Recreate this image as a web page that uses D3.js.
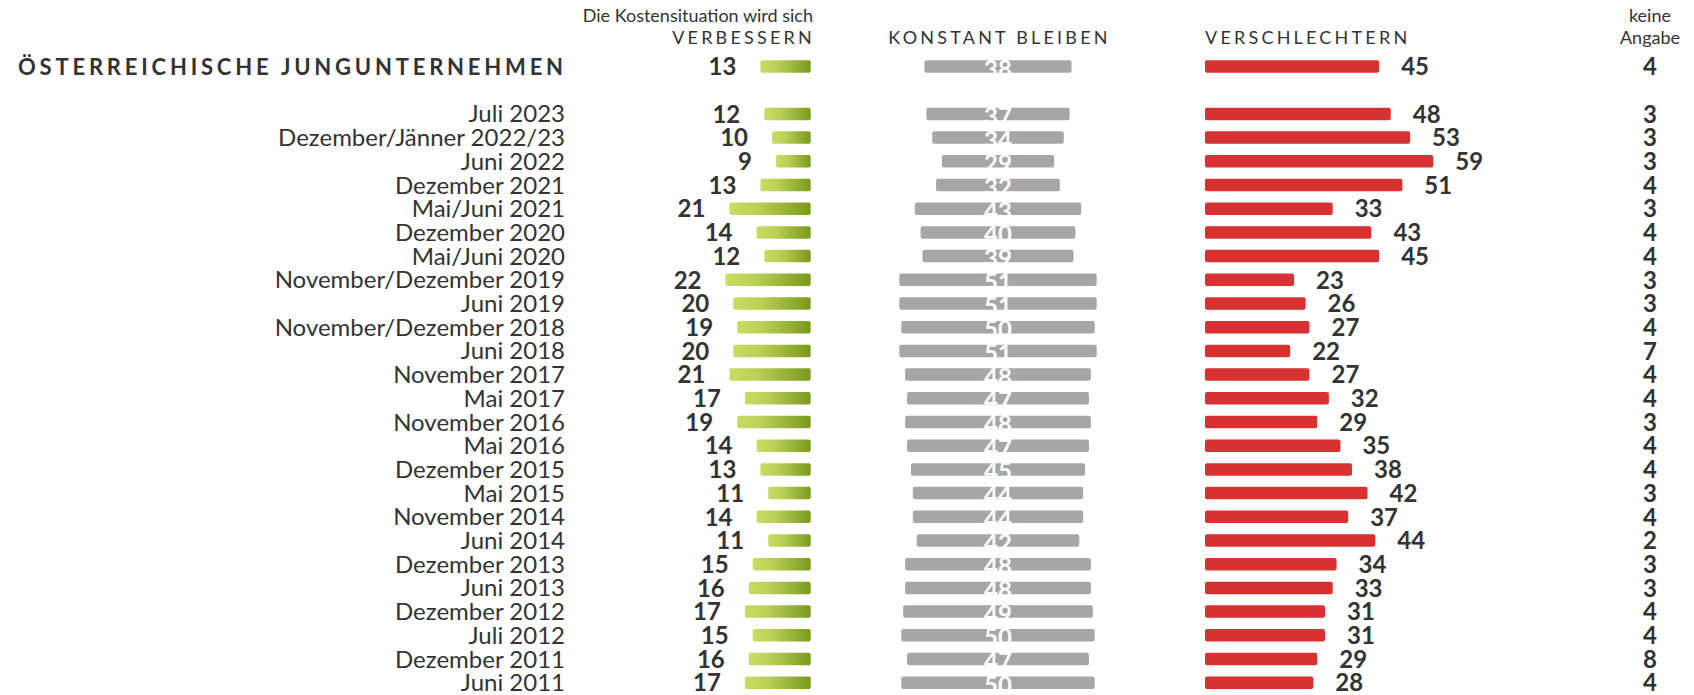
<!DOCTYPE html>
<html><head><meta charset="utf-8">
<script src="https://cdn.jsdelivr.net/npm/d3@7"></script>
<style>
html,body{margin:0;padding:0;background:#fff;}
svg{display:block;font-family:Lato,"Noto Sans",sans-serif;}
</style></head>
<body>
<svg id="chart" width="1694" height="695"></svg>
<script>
const summaryLabel = "ÖSTERREICHISCHE JUNGUNTERNEHMEN";
const summaryValues = [13, 38, 45, 4];
const categories = ["Juli 2023","Dezember/Jänner 2022/23","Juni 2022","Dezember 2021","Mai/Juni 2021","Dezember 2020","Mai/Juni 2020","November/Dezember 2019","Juni 2019","November/Dezember 2018","Juni 2018","November 2017","Mai 2017","November 2016","Mai 2016","Dezember 2015","Mai 2015","November 2014","Juni 2014","Dezember 2013","Juni 2013","Dezember 2012","Juli 2012","Dezember 2011","Juni 2011"];
const verbessern = [12,10,9,13,21,14,12,22,20,19,20,21,17,19,14,13,11,14,11,15,16,17,15,16,17];
const konstant = [37,34,29,32,43,40,39,51,51,50,51,48,47,48,47,45,44,44,42,48,48,49,50,47,50];
const verschlechtern = [48,53,59,51,33,43,45,23,26,27,22,27,32,29,35,38,42,37,44,34,33,31,31,29,28];
const keineAngabe = [3,3,3,4,3,4,4,3,3,4,7,4,4,3,4,4,3,4,2,3,3,4,4,8,4];
const headerIntro = "Die Kostensituation wird sich";
const headers = ["VERBESSERN","KONSTANT BLEIBEN","VERSCHLECHTERN"];
const naHeader = ["keine","Angabe"];

const svg = d3.select("#chart");
const textCol = "#333333";

const rows = [{label: summaryLabel, pos: -2, v: summaryValues[0], k: summaryValues[1], s: summaryValues[2], n: summaryValues[3], summary: true}]
  .concat(categories.map((c,i)=>({label:c, pos:i, v:verbessern[i], k:konstant[i], s:verschlechtern[i], n:keineAngabe[i], summary:false})));

const y = d3.scaleLinear().domain([0, 24]).range([113.9, 682.7]);
const w = d3.scaleLinear().domain([0, 100]).range([0, 387]);
const greenRight = 810.7, grayCenter = 998, redLeft = 1205, naX = 1650, labelRight = 565;
const barH = 12.5;

const defs = svg.append("defs");
const grad = defs.append("linearGradient").attr("id","gGreen").attr("x1","0").attr("y1","0").attr("x2","1").attr("y2","0");
grad.append("stop").attr("offset","0%").attr("stop-color","#c9dc62");
grad.append("stop").attr("offset","35%").attr("stop-color","#b9cf56");
grad.append("stop").attr("offset","100%").attr("stop-color","#7a991c");

// headers
const hf = 18;
svg.append("text").attr("x", 813).attr("y", 22).attr("text-anchor","end")
  .attr("font-size", hf).attr("fill", textCol).text(headerIntro);
svg.append("text").attr("x", 815).attr("y", 44).attr("text-anchor","end")
  .attr("font-size", hf).attr("letter-spacing", 3.2).attr("fill", textCol).text(headers[0]);
svg.append("text").attr("x", grayCenter + 1.5).attr("y", 44).attr("text-anchor","middle")
  .attr("font-size", hf).attr("letter-spacing", 3.2).attr("fill", textCol).text(headers[1]);
svg.append("text").attr("x", redLeft).attr("y", 44).attr("text-anchor","start")
  .attr("font-size", hf).attr("letter-spacing", 3.2).attr("fill", textCol).text(headers[2]);
svg.append("text").attr("x", naX).attr("y", 22).attr("text-anchor","middle")
  .attr("font-size", hf).attr("fill", textCol).text(naHeader[0]);
svg.append("text").attr("x", naX).attr("y", 44).attr("text-anchor","middle")
  .attr("font-size", hf).attr("fill", textCol).text(naHeader[1]);

const g = svg.selectAll("g.row").data(rows).enter().append("g").attr("class","row")
  .attr("transform", d => `translate(0,${y(d.pos)})`);

// category labels
g.filter(d => !d.summary).append("text").attr("x", labelRight).attr("y", 8.5)
  .attr("text-anchor","end").attr("font-size", 24).attr("fill", textCol).text(d => d.label);
g.filter(d => d.summary).append("text").attr("x", 18).attr("y", 8)
  .attr("text-anchor","start").attr("font-size", 22).attr("font-weight", 700)
  .attr("letter-spacing", 3.8).attr("fill", textCol).text(d => d.label);

// green bars
g.append("rect").attr("x", d => greenRight - w(d.v)).attr("y", -barH/2)
  .attr("width", d => w(d.v)).attr("height", barH).attr("rx", 2).attr("fill", "url(#gGreen)");
g.append("text").attr("x", d => greenRight - w(d.v) - 24).attr("y", 8.7)
  .attr("text-anchor","end").attr("font-size", 24).attr("font-weight", 700).attr("fill", textCol)
  .text(d => d.v);

// gray bars
g.append("rect").attr("x", d => grayCenter - w(d.k)/2).attr("y", -barH/2)
  .attr("width", d => w(d.k)).attr("height", barH).attr("rx", 2).attr("fill", "#a6a6a6");
g.append("text").attr("x", grayCenter).attr("y", -barH/2 + 17.3)
  .attr("text-anchor","middle").attr("font-size", 24).attr("font-weight", 700).attr("fill", "#ffffff")
  .text(d => d.k);

// red bars
g.append("rect").attr("x", redLeft).attr("y", -barH/2)
  .attr("width", d => w(d.s)).attr("height", barH).attr("rx", 2).attr("fill", "#d83131");
g.append("text").attr("x", d => redLeft + w(d.s) + 22).attr("y", 8.7)
  .attr("text-anchor","start").attr("font-size", 24).attr("font-weight", 700).attr("fill", textCol)
  .text(d => d.s);

// keine Angabe
g.append("text").attr("x", naX).attr("y", 8.7)
  .attr("text-anchor","middle").attr("font-size", 24).attr("font-weight", 700).attr("fill", textCol)
  .text(d => d.n);
</script>
</body></html>
